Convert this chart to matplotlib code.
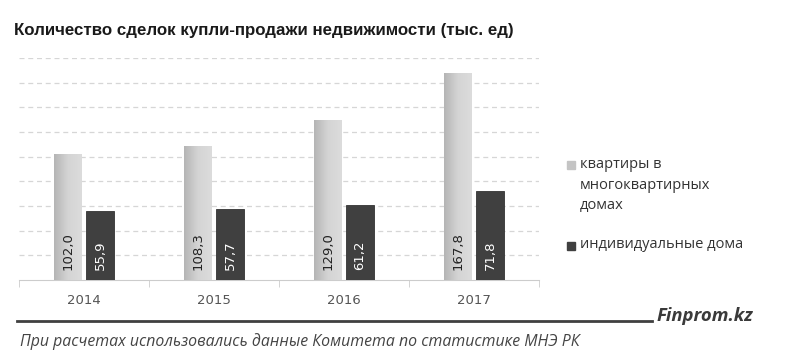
import numpy as np
import matplotlib
matplotlib.use('Agg')
import matplotlib.pyplot as plt
from matplotlib.colors import LinearSegmentedColormap
from matplotlib.patches import Rectangle

years = ["2014", "2015", "2016", "2017"]
flats = [102.0, 108.3, 129.0, 167.8]
houses = [55.9, 57.7, 61.2, 71.8]
flats_label = "квартиры в\nмногоквартирных\nдомах"
houses_label = "индивидуальные дома"
title = "Количество сделок купли-продажи недвижимости (тыс. ед)"
footer = "При расчетах использовались данные Комитета по статистике МНЭ РК"
brand = "Finprom.kz"

W, H = 800, 363
fig = plt.figure(figsize=(W / 100, H / 100), dpi=100)
fig.patch.set_facecolor("white")

ax = fig.add_axes([19 / W, 1 - 280 / H, 520 / W, 222 / H])

x = np.arange(len(years))
bw = 0.215
off = 0.123

# gray bars with a light horizontal gradient
gray_cmap = LinearSegmentedColormap.from_list("g", ["#b5b5b5", "#d4d4d4", "#dcdcdc"])
grad = np.linspace(0, 1, 64).reshape(1, -1)
for xi, v in zip(x, flats):
    x0 = xi - off - bw / 2
    ax.imshow(grad, cmap=gray_cmap, extent=(x0, x0 + bw, 0, v),
              aspect="auto", zorder=3)
    ax.text(xi - off, 8, f"{v:.1f}".replace(".", ","), rotation=90,
            ha="center", va="bottom", fontsize=9.5, color="#222222",
            family="DejaVu Sans", zorder=5)
ax.set_aspect("auto")
ax.set_xlim(-0.5, len(years) - 0.5)
ax.set_ylim(0, 180)

ax.bar(x + off, houses, width=bw, color="#404040", edgecolor="#333333",
       linewidth=0.6, zorder=3)
for xi, v in zip(x, houses):
    ax.text(xi + off, 8, f"{v:.1f}".replace(".", ","), rotation=90,
            ha="center", va="bottom", fontsize=9.5, color="white",
            family="DejaVu Sans", zorder=5)

ax.set_yticks(np.arange(20, 181, 20))
ax.yaxis.grid(True, color="#d6d6d6", linestyle=(0, (4, 3)), linewidth=0.9)
ax.set_axisbelow(True)
ax.tick_params(axis="y", left=False, labelleft=False)
ax.set_xticks(x)
ax.set_xticklabels(years, fontsize=9.5, color="#555555")
ax.tick_params(axis="x", length=0, pad=10)
ax.set_xticks(np.arange(-0.5, len(years)), minor=True)
ax.tick_params(axis="x", which="minor", length=5, color="#cccccc")
for s in ["top", "right", "left"]:
    ax.spines[s].set_visible(False)
ax.spines["bottom"].set_color("#cccccc")

fig.text(14 / W, 1 - 30 / H, title, fontsize=12.2, fontweight="bold",
         color="#1a1a1a", family="Liberation Sans", va="center")

# legend
fig.add_artist(Rectangle((567 / W, 1 - 169 / H), 8 / W, 8 / H,
                         transform=fig.transFigure, color="#c4c4c4"))
fig.text(580 / W, 1 - 157 / H, flats_label, fontsize=10.5, color="#333333",
         family="Open Sans", va="top", linespacing=1.5)
fig.add_artist(Rectangle((567 / W, 1 - 250 / H), 8 / W, 8 / H,
                         transform=fig.transFigure, color="#404040"))
fig.text(580 / W, 1 - 245 / H, houses_label, fontsize=10.5, color="#333333",
         family="Open Sans", va="center")

# bottom line and footer
fig.add_artist(plt.Line2D([17 / W, 652 / W], [1 - 321 / H, 1 - 321 / H],
                          transform=fig.transFigure, color="#404040", lw=2))
fig.text(657 / W, 1 - 316 / H, brand, fontsize=13.3, fontstyle="italic",
         fontweight="bold", color="#3a3a3a", family="Open Sans", va="center")
fig.text(20 / W, 1 - 342 / H, footer, fontsize=11.4, fontstyle="italic",
         color="#444444", family="Open Sans", va="center")

fig.savefig("out.png", dpi=100)
